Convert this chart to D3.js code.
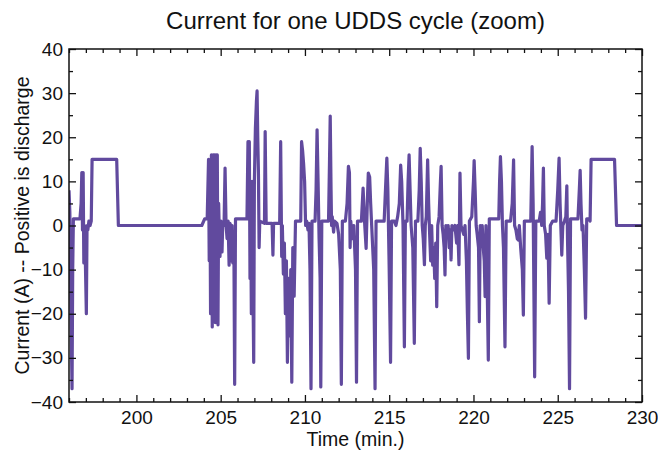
<!DOCTYPE html>
<html>
<head>
<meta charset="utf-8">
<script src="https://cdn.jsdelivr.net/npm/d3@7"></script>
<style>
  body { margin: 0; background: #fff; }
  text { font-family: "Liberation Sans", Arial, Helvetica, sans-serif; fill: #111; }
  .axis-title { font-size: 19.5px; }
  .chart-title { font-size: 24px; }
</style>
</head>
<body>
<svg id="CurrentVis" width="658" height="454"></svg>
<script>
const width = 658;
const height = 454;

/* DATA */
const timeDomain = [196, 230];
const currentDomain = [-40, 40];
const xTickValues = [200, 205, 210, 215, 220, 225, 230];
const yTickValues = [-40, -30, -20, -10, 0, 10, 20, 30, 40];

// time in minutes
const timeMin = [
  196.00, 196.05, 196.12, 196.18, 196.22, 196.26, 196.65, 196.72, 196.76, 196.80,
  196.84, 196.88, 196.92, 196.97, 197.03, 197.07, 197.12, 197.18, 197.25, 197.32,
  197.37, 198.83, 198.93, 203.88, 204.05, 204.20, 204.28, 204.32, 204.36, 204.40,
  204.45, 204.50, 204.55, 204.60, 204.63, 204.68, 204.72, 204.76, 204.80, 204.84,
  204.88, 204.92, 204.96, 205.02, 205.08, 205.12, 205.20, 205.26, 205.32, 205.38,
  205.44, 205.50, 205.55, 205.60, 205.64, 205.68, 205.72, 205.78, 205.83, 205.88,
  206.56, 206.62, 206.66, 206.70, 206.74, 206.78, 206.82, 206.86, 206.90, 206.96,
  207.00, 207.06, 207.12, 207.16, 207.20, 207.24, 207.28, 207.32, 207.60, 207.64,
  207.70, 208.05, 208.10, 208.14, 208.50, 208.56, 208.62, 208.66, 208.72, 208.78,
  208.84, 208.90, 208.96, 209.02, 209.10, 209.16, 209.22, 209.28, 209.36, 209.44,
  209.75, 209.80, 209.86, 209.92, 209.98, 210.04, 210.10, 210.18, 210.24, 210.30,
  210.36, 210.42, 210.60, 210.66, 210.72, 210.78, 210.84, 210.90, 210.94, 211.00,
  211.40, 211.46, 211.50, 211.55, 211.58, 211.62, 211.70, 211.76, 211.90, 212.00,
  212.10, 212.16, 212.22, 212.40, 212.50, 212.58, 212.64, 212.68, 212.72, 212.80,
  212.90, 213.00, 213.06, 213.12, 213.35, 213.45, 213.55, 213.63, 213.70, 213.76,
  213.84, 213.90, 213.96, 214.08, 214.16, 214.22, 214.70, 214.80, 214.86, 214.92,
  215.00, 215.08, 215.14, 215.30, 215.40, 215.50, 215.60, 215.68, 215.74, 215.82,
  215.90, 215.96, 216.06, 216.12, 216.18, 216.24, 216.30, 216.40, 216.49, 216.56,
  216.70, 216.78, 216.84, 216.90, 216.96, 217.02, 217.09, 217.14, 217.20, 217.28,
  217.34, 217.40, 217.46, 217.52, 217.58, 217.64, 217.70, 217.76, 217.82, 217.88,
  217.96, 218.04, 218.08, 218.14, 218.20, 218.26, 218.31, 218.36, 218.42, 218.50,
  218.56, 218.62, 218.67, 218.72, 218.80, 218.90, 219.00, 219.06, 219.14, 219.20,
  219.26, 219.34, 219.42, 219.50, 219.58, 219.64, 219.70, 219.76, 219.90, 220.00,
  220.04, 220.10, 220.16, 220.22, 220.30, 220.35, 220.40, 220.46, 220.52, 220.58,
  220.64, 220.69, 220.74, 220.80, 220.88, 220.94, 221.50, 221.55, 221.60, 221.66,
  221.72, 221.78, 221.87, 221.94, 222.20, 222.30, 222.38, 222.44, 222.52, 222.60,
  222.66, 222.72, 222.80, 222.90, 222.96, 223.02, 223.40, 223.48, 223.54, 223.63,
  223.70, 223.90, 223.98, 224.05, 224.10, 224.15, 224.20, 224.28, 224.35, 224.42,
  224.49, 224.56, 224.70, 224.90, 225.00, 225.08, 225.14, 225.20, 225.24, 225.30,
  225.40, 225.48, 225.54, 225.58, 225.64, 225.70, 225.76, 226.20, 226.28, 226.33,
  226.38, 226.44, 226.50, 226.58, 226.65, 226.72, 226.85, 226.92, 226.98, 228.37,
  228.49, 230.00
];

// current in amps, positive is discharge
const currentA = [
  8, 3, -20, -37, -10, 1.5, 1.5, 5, 12, -1,
  12, -8.5, 0, -8, -20, 0, -1, 1, 0, 1,
  15, 15, 0, 0, 1.5, 1.5, 15, -8, 10, -20,
  16, -23, 16, -10, 16, -22, 16, -5, 16, -22.5,
  5, -2, -7, 1, -6, 0, 0, 13, 0, -3,
  1, -9, 0.5, 0, -8, 0, -8.5, -2, -36, 1.5,
  1.5, 19, 5, 19, -12, 5, -20, 10, -8, -31,
  10, 22, 28, 30.5, 20, 12, -5, 1, 0.5, 21.3,
  0.5, 0.5, -6.7, 0.5, 0.5, 19, -7, 0, -11, -4,
  -20, -8, -31, -12, -25, -10, -35.5, -5, -16, 1,
  1, 19, 17, 14, 10, 0, 1, -1, 0.5, -10,
  -37, 1, 1, 8, 21.7, 10, -3, -12, -36.6, 1,
  1, 15, 24.8, 8, 0, 2, -1.5, 1, 0.5, -2,
  -10, -36, 1, 1, 5, 13.4, 12, -5, 1, -3,
  0, -10, -35.5, 1, 1, 8.5, 0, -5.2, 5, 11.9,
  11, 5, 0, -10, -37, 1, 1, 10, 15.3, 8,
  -10, -31, 1, 1, 0, 2, 5, 13.7, 10, 0,
  -27.5, 1, 1, 10, 16, 8, 0, -5, -26.7, 1,
  1, 8, 17.5, 10, 0, -3, -8.9, 0, 2, 14.9,
  5, -2, -8, 0, -9, -5, -12, -4, -18.4, 0,
  2, 10, 13.4, 0, -2, -5, -11.2, 0, -2, 0,
  -5, -1, -7.8, 0, -1, 0, -4, 0, -8.9, 11.9,
  0, -1, -2, 0, -8, -20, -30.1, 1, 2, 10,
  14.7, 8, 0, -2, -5, -21.8, 0, -2, 0, -5,
  -8, -16.1, 0, -10, -30.5, 1.5, 1.5, 10, 15.6, 10,
  0, -5, -27.5, 1, 1, 5, 14.9, 0, -1, -3,
  -3.3, 0, -5, -10, -20.3, 1, 1, 17.9, 5, -34.3,
  1, 1, 3, 0, 5, 13, 0, -2, -7.4, -2,
  -17.6, 0, 1, 1, 8, 15.3, 5, -2, -6.7, 0,
  1, 2, 9, -3, -15, -37, 1.5, 1.5, 8, 12.5,
  5, -1, 0, -10, -21, 1.5, 1.5, 1, 15, 15,
  0, 0
];

const series = timeMin.map((t, i) => ({ t: t, a: currentA[i] }));


/* PLOT */
const margin = { top: 49, bottom: 52, left: 69, right: 16 };
const plotWidth = width - margin.left - margin.right;
const plotHeight = height - margin.top - margin.bottom;

let svg = d3.select("body").select("svg#CurrentVis");
const plot = svg.append("g").attr("id", "plot");
plot.attr("transform", translate(margin.left, margin.top));

const scales = {
  x: d3.scaleLinear().domain(timeDomain).range([0, plotWidth]),
  y: d3.scaleLinear().domain(currentDomain).range([plotHeight, 0])
};

drawLine();
drawAxes();
drawTitles();


/* LINE */
function drawLine() {
  svg.append("defs").append("clipPath")
    .attr("id", "clip")
    .append("rect")
    .attr("width", plotWidth)
    .attr("height", plotHeight);

  const line = d3.line()
    .x(d => scales.x(d.t))
    .y(d => scales.y(d.a));

  plot.append("path")
    .datum(series)
    .attr("clip-path", "url(#clip)")
    .attr("fill", "none")
    .attr("stroke", "#614a9e")
    .attr("stroke-width", 3.2)
    .attr("stroke-linejoin", "round")
    .attr("d", line);
}


/* AXES: box with inward ticks on all four sides */
function drawAxes() {
  const xMinor = d3.range(timeDomain[0], timeDomain[1] + 1, 1).filter(v => v % 5 !== 0);
  const yMinor = d3.range(currentDomain[0], currentDomain[1] + 1, 5).filter(v => v % 10 !== 0);

  const box = plot.append("g").attr("class", "frame");

  // major ticks with labels
  const bottom = d3.axisBottom(scales.x).tickValues(xTickValues).tickSize(-7).tickPadding(9).tickSizeOuter(0);
  const top = d3.axisTop(scales.x).tickValues(xTickValues).tickSize(-7).tickFormat("").tickSizeOuter(0);
  const left = d3.axisLeft(scales.y).tickValues(yTickValues).tickSize(-7).tickPadding(6).tickSizeOuter(0);
  const right = d3.axisRight(scales.y).tickValues(yTickValues).tickSize(-7).tickFormat("").tickSizeOuter(0);

  // minor ticks
  const bottomMinor = d3.axisBottom(scales.x).tickValues(xMinor).tickSize(-4).tickFormat("").tickSizeOuter(0);
  const topMinor = d3.axisTop(scales.x).tickValues(xMinor).tickSize(-4).tickFormat("").tickSizeOuter(0);
  const leftMinor = d3.axisLeft(scales.y).tickValues(yMinor).tickSize(-4).tickFormat("").tickSizeOuter(0);
  const rightMinor = d3.axisRight(scales.y).tickValues(yMinor).tickSize(-4).tickFormat("").tickSizeOuter(0);

  box.append("g").attr("transform", translate(0, plotHeight)).call(bottom);
  box.append("g").attr("transform", translate(0, plotHeight)).call(bottomMinor);
  box.append("g").call(top);
  box.append("g").call(topMinor);
  box.append("g").call(left);
  box.append("g").call(leftMinor);
  box.append("g").attr("transform", translate(plotWidth, 0)).call(right);
  box.append("g").attr("transform", translate(plotWidth, 0)).call(rightMinor);

  box.selectAll(".domain").remove();
  box.selectAll(".tick line").attr("stroke", "#111").attr("stroke-width", 1.3);
  box.selectAll(".tick text")
    .attr("fill", "#111")
    .style("font-size", "19px")
    .style("font-family", "'Liberation Sans', Arial, sans-serif");

  box.append("rect")
    .attr("width", plotWidth)
    .attr("height", plotHeight)
    .attr("fill", "none")
    .attr("stroke", "#111")
    .attr("stroke-width", 1.5);
}


/* TITLES */
function drawTitles() {
  const xMiddle = margin.left + plotWidth / 2;
  const yMiddle = margin.top + plotHeight / 2;

  svg.append("text")
    .attr("class", "chart-title")
    .attr("x", xMiddle)
    .attr("y", 29)
    .attr("text-anchor", "middle")
    .text("Current for one UDDS cycle (zoom)");

  svg.append("text")
    .attr("class", "axis-title")
    .attr("x", xMiddle)
    .attr("y", 446)
    .attr("text-anchor", "middle")
    .text("Time (min.)");

  const yTitleGroup = svg.append("g");
  yTitleGroup.attr("transform", translate(29, yMiddle) + " rotate(-90)");

  yTitleGroup.append("text")
    .attr("class", "axis-title")
    .attr("text-anchor", "middle")
    .text("Current (A) -- Positive is discharge");
}


/*
 * returns a translate string for the transform attribute
 */
function translate(x, y) {
  return "translate(" + String(x) + "," + String(y) + ")";
}
</script>
</body>
</html>
